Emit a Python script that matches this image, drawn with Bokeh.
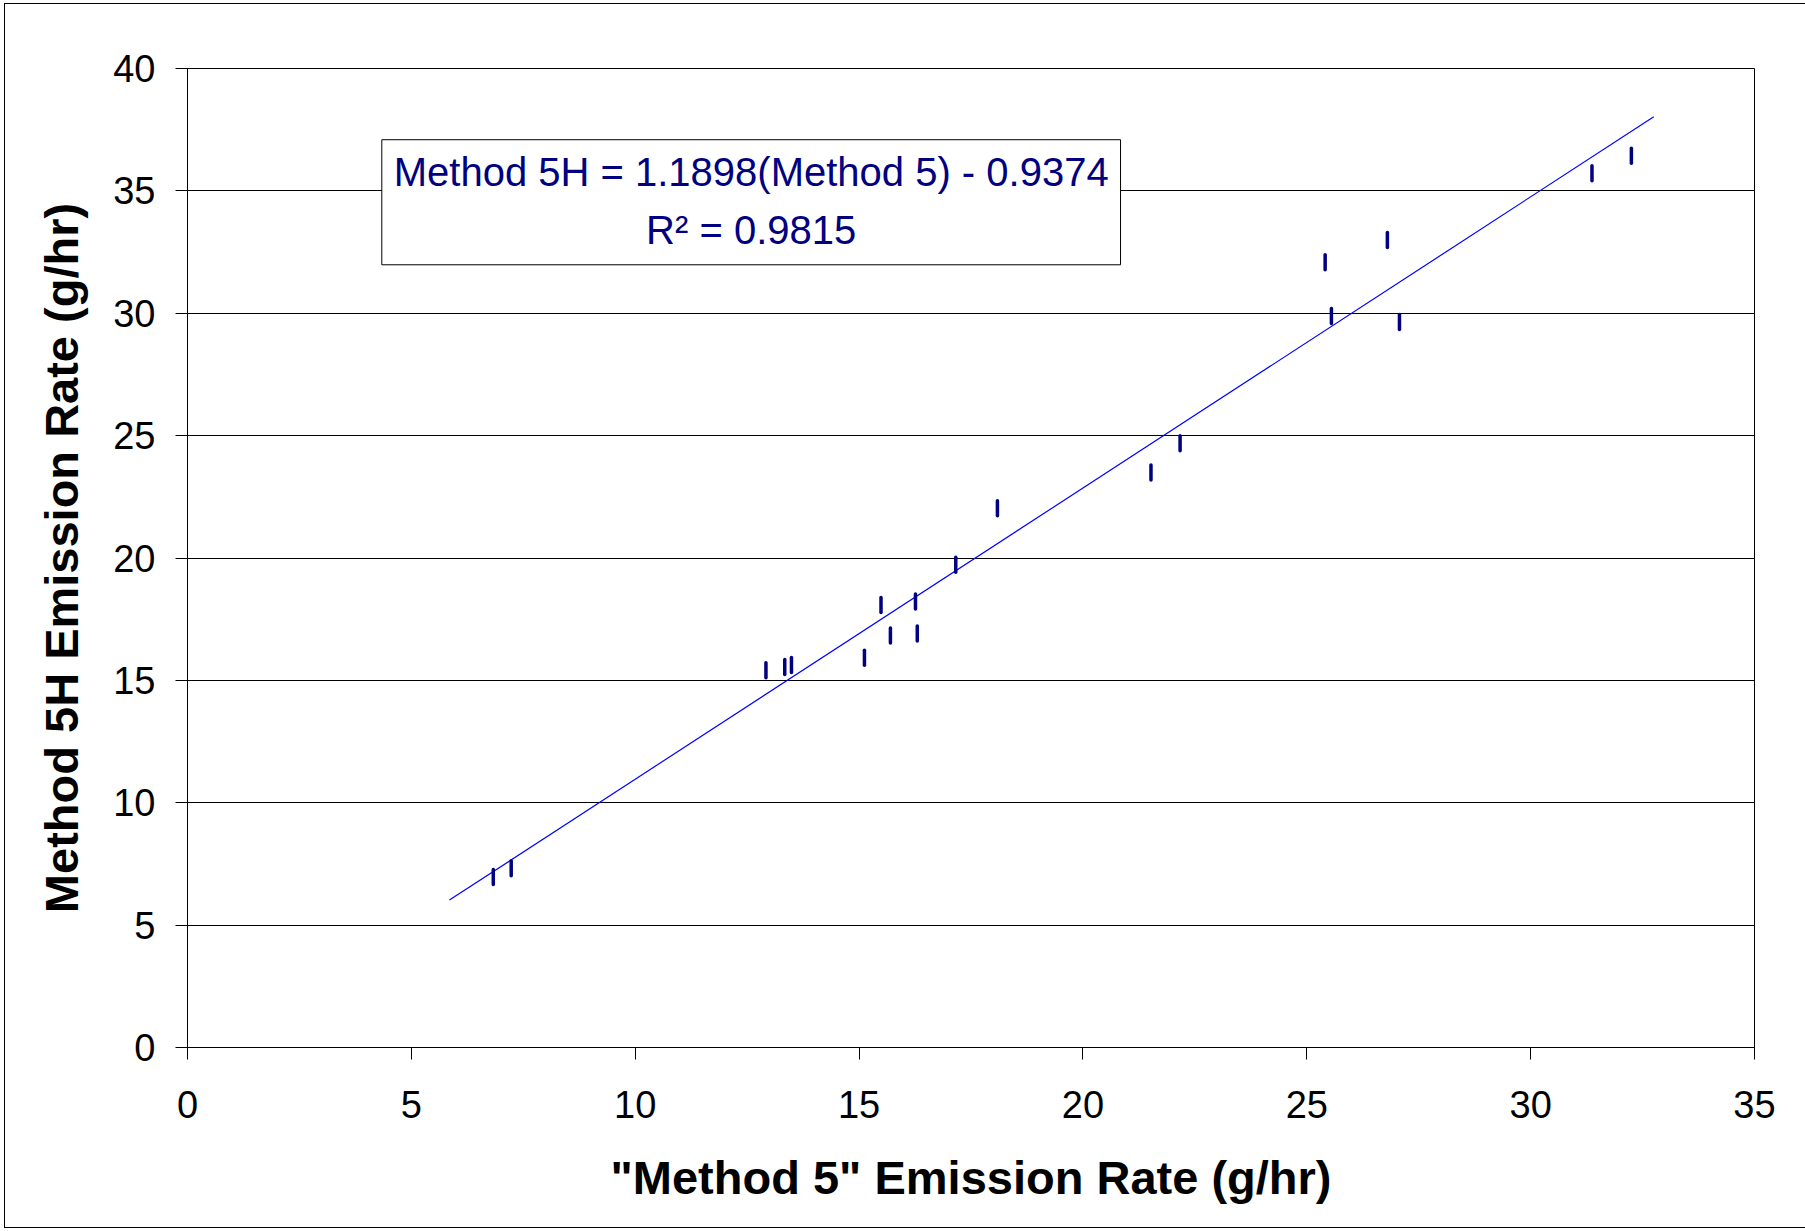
from bokeh.plotting import figure
from bokeh.models import Label, BoxAnnotation, FixedTicker
from bokeh.embed import file_html
from bokeh.resources import INLINE

# Data
method5 = [6.83, 7.23, 12.92, 13.34, 13.49, 15.12, 15.49, 15.70, 16.26, 16.30,
           17.16, 18.09, 21.52, 22.17, 25.41, 25.55, 26.80, 27.07, 31.37, 32.25]
method5h = [6.97, 7.32, 15.41, 15.55, 15.63, 15.92, 18.08, 16.83, 18.22, 16.92,
            19.72, 22.03, 23.49, 24.69, 32.08, 29.89, 32.99, 29.64, 35.72, 36.44]
slope = 1.1898
intercept = -0.9374
trend_x = [5.85, 32.75]
trend_y = [slope * v + intercept for v in trend_x]
x_ticks = [0, 5, 10, 15, 20, 25, 30, 35]
y_ticks = [0, 5, 10, 15, 20, 25, 30, 35, 40]
eq_text = "Method 5H = 1.1898(Method 5) - 0.9374"
r2_text = "R\u00b2 = 0.9815"

FONT = "Liberation Sans"

p = figure(width=1801, height=1225, output_backend="svg", toolbar_location=None,
           x_range=(0, 35), y_range=(0, 40),
           min_border_left=182, min_border_right=52, min_border_top=64, min_border_bottom=182)
p.styles = {"border": "1px solid black", "border-right": "none",
            "margin-left": "4px", "margin-top": "3px"}
p.background_fill_color = "white"
p.border_fill_color = "white"
p.outline_line_color = "black"
p.outline_line_width = 1

p.xgrid.grid_line_color = None
p.ygrid.grid_line_color = "black"
p.ygrid.grid_line_width = 1
p.xaxis.ticker = FixedTicker(ticks=x_ticks)
p.yaxis.ticker = FixedTicker(ticks=y_ticks)

for ax in (p.xaxis[0], p.yaxis[0]):
    ax.axis_line_color = "black"
    ax.major_tick_line_color = "black"
    ax.major_tick_in = 0
    ax.major_tick_out = 12
    ax.minor_tick_line_color = None
    ax.major_label_text_font = FONT
    ax.major_label_text_font_size = "38px"
    ax.major_label_text_color = "black"
    ax.axis_label_text_font = FONT
    ax.axis_label_text_font_size = "47px"
    ax.axis_label_text_font_style = "bold"
    ax.axis_label_text_color = "black"

p.xaxis.major_label_standoff = 31
p.yaxis.major_label_standoff = 20
p.xaxis.axis_label = '"Method 5" Emission Rate (g/hr)'
p.yaxis.axis_label = "Method 5H Emission Rate (g/hr)"
p.xaxis.axis_label_standoff = 30
p.yaxis.axis_label_standoff = 22

p.line(trend_x, trend_y, line_color="#0000FF", line_width=1.2)
p.scatter(method5, method5h, marker="dash", angle=1.5708, size=15,
          line_color="#000080", line_width=3.5, line_cap="round")

box = BoxAnnotation(left=4.34, right=20.84, bottom=31.98, top=37.09,
                    fill_color="white", fill_alpha=1.0,
                    line_color="black", line_width=1, line_alpha=1.0)
p.add_layout(box)
p.add_layout(Label(x=12.59, y=35.76, text=eq_text, text_align="center",
                   text_baseline="middle", text_font=FONT, text_font_size="40px",
                   text_color="#000080"))
p.add_layout(Label(x=12.59, y=33.41, text=r2_text, text_align="center",
                   text_baseline="middle", text_font=FONT, text_font_size="40px",
                   text_color="#000080"))

open("out.html", "w").write(file_html(p, INLINE))
